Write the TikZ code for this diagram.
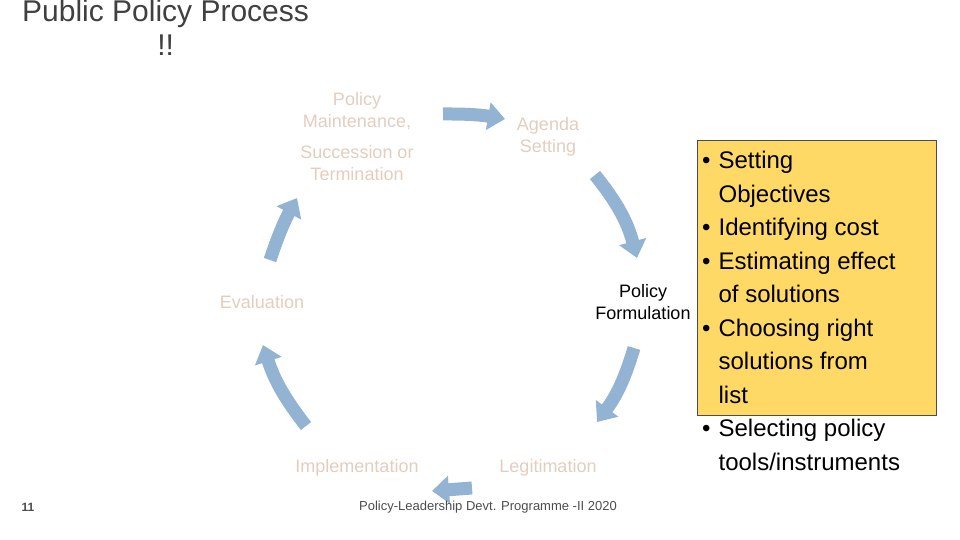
\documentclass[tikz,border=0pt]{standalone}
\usepackage{fontspec}
\setmainfont{Liberation Sans}
\usetikzlibrary{arrows.meta}
\definecolor{arr}{HTML}{93B3D3}
\definecolor{pale}{HTML}{E3CDBE}
\definecolor{boxy}{HTML}{FFD966}
\begin{document}
\begin{tikzpicture}[x=1pt,y=-1pt,
  lab/.style={text=pale,font=\fontsize{18}{22}\selectfont,align=center,inner sep=0},
  cyc/.style={draw=arr,line width=13pt,-{Triangle[width=27pt,length=17pt]}}]
\useasboundingbox (0,0) rectangle (960,540);
\node[anchor=north west,text=black!75,font=\fontsize{30}{34}\selectfont,align=center,inner sep=0] (title) at (22,0) {Public Policy Process\\!!};
\node[lab] (maint) at (357,111) {Policy\\Maintenance,};
\node[lab] (succ) at (357,163) {Succession or\\Termination};
\node[lab] (agenda) at (548,137) {Agenda\\Setting};
\node[lab] (eval) at (262,302) {Evaluation};
\node[lab,text=black] (form) at (643,302) {Policy\\Formulation};
\node[lab] (impl) at (357,468) {Implementation};
\node[lab] (legit) at (548,468) {Legitimation};
\coordinate (a1) at (443,114); \coordinate (b1) at (505,119);
\coordinate (a2) at (595,175); \coordinate (b2) at (637,258);
\coordinate (a3) at (634,348); \coordinate (b3) at (597,422);
\coordinate (a4) at (472,488); \coordinate (b4) at (432,491);
\coordinate (a5) at (306,426); \coordinate (b5) at (263,345);
\coordinate (a6) at (270,260); \coordinate (b6) at (297,198);
\draw[cyc] (a1) to[bend left=5] (b1);
\draw[cyc] (a2) to[bend left=12] (b2);
\draw[cyc] (a3) to[bend left=10] (b3);
\draw[cyc] (a4) -- (b4);
\draw[cyc] (a5) to[bend left=10] (b5);
\draw[cyc] (a6) to[bend left=5] (b6);
\node[draw=black!70,fill=boxy,line width=1pt,minimum width=239pt,minimum height=275pt,anchor=north west] (box) at (697,140) {};
\node[anchor=north west,inner sep=0,font=\fontsize{24}{33.5}\selectfont] (list) at (702,145) {%
\begin{tabular}{@{}l@{\hspace{8pt}}l@{}}
• & Setting\\ & Objectives\\
• & Identifying cost\\
• & Estimating effect\\ & of solutions\\
• & Choosing right\\ & solutions from\\ & list\\
• & Selecting policy\\ & tools/instruments
\end{tabular}};
\node[font=\bfseries\fontsize{12}{14}\selectfont,text=black!70] (num) at (28,507) {11};
\node[font=\fontsize{13}{15}\selectfont,text=black!70] (foot) at (488,507) {Policy-Leadership Devt. Programme -II 2020};
\end{tikzpicture}
\end{document}
